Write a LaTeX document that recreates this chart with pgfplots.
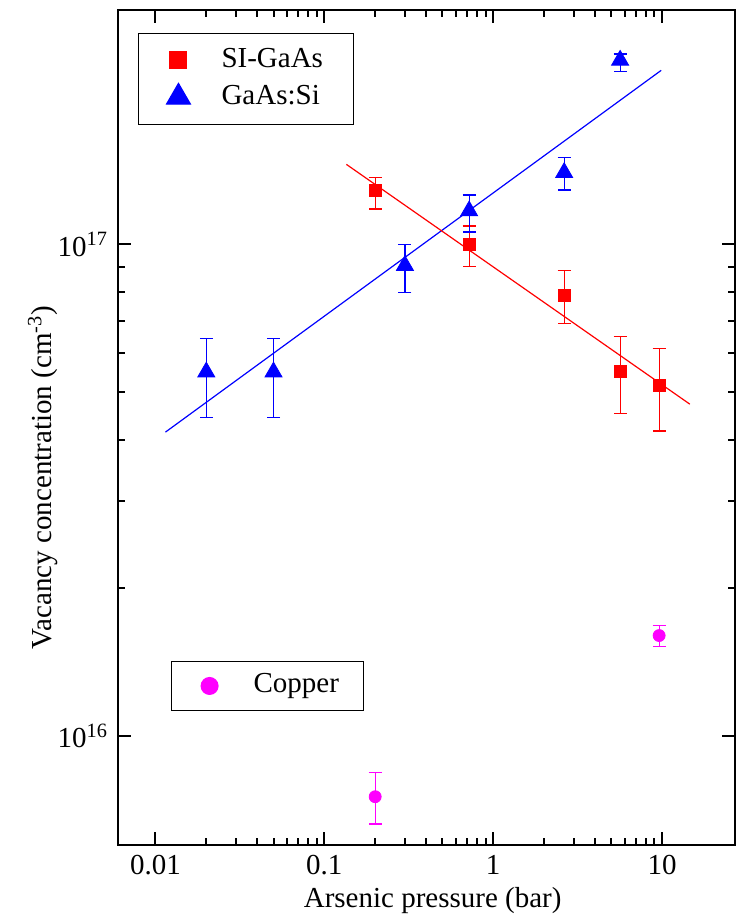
\documentclass[border=0pt]{standalone}
\usepackage{fontspec}
\setmainfont{Liberation Serif}
\usepackage{pgfplots}
\pgfplotsset{compat=1.18}

\newcommand{\chartfont}{\fontsize{14.5}{17}\selectfont}
\definecolor{cured}{RGB}{255,0,0}
\definecolor{siblue}{RGB}{0,0,255}
\definecolor{copper}{RGB}{255,0,255}

\begin{document}
\chartfont
\begin{tikzpicture}
\useasboundingbox (-59pt,-35.5pt) rectangle (308.5pt,422.5pt);

\begin{axis}[
    scale only axis, width=308.5pt, height=417.5pt,
    xmode=log, ymode=log,
    xmin=0.006, xmax=27, ymin=6e15, ymax=3e17,
    axis line style={line width=1pt},
    tick style={line width=1pt, black},
    major tick length=6.5pt, minor tick length=3.5pt,
    tick align=inside,
    xtick={0.01,0.1,1,10}, xticklabels={0.01,0.1,1,10},
    ytick={1e16,1e17},
    yticklabels={10\textsuperscript{16},10\textsuperscript{17}},
    tick label style={font=\chartfont},
    label style={font=\chartfont},
    xlabel={Arsenic pressure (bar)},
    ylabel={Vacancy concentration (cm\textsuperscript{-3})},
    xlabel style={at={(axis description cs:0.51,0)}, anchor=center, yshift=-28pt},
    ylabel style={at={(axis description cs:-0.1216,0.44)}, anchor=center},
    legend image post style={scale=1.4},
    legend style={at={(axis description cs:0.0324,0.9725)}, anchor=north west,
      draw=black, line width=0.6pt, font=\chartfont,
      inner xsep=14pt, inner ysep=7pt, row sep=5pt,
      /tikz/every odd column/.append style={column sep=15.6pt},
      nodes={inner xsep=0pt, inner ysep=0pt, text height=10pt, text depth=3pt,
             text width=52pt, align=left}},
  ]
  % fitted lines
  \addplot[siblue, line width=0.6pt, forget plot]
    coordinates {(0.01146,4.15e16) (9.87,2.26e17)};
  \addplot[cured, line width=0.6pt, forget plot]
    coordinates {(0.135,1.455e17) (14.6,4.73e16)};

  \addplot[cured, only marks, mark=square*, mark size=3pt,
      error bars/.cd, y dir=both, y explicit,
      error bar style={line width=0.6pt},
      error mark options={rotate=90, mark size=3.25pt, line width=0.6pt}]
    table[x=x, y=y, y error plus=ep, y error minus=em] {
      x     y        ep       em
      0.2   1.29e17  0.08e17  0.11e17
      0.72  1.00e17  0.09e17  0.10e17
      2.63  7.88e16  0.97e16  0.98e16
      5.64  5.52e16  0.98e16  0.99e16
      9.6   5.17e16  0.98e16  1.00e16
    };
  \addlegendentry{SI-GaAs}

  \addplot[siblue, only marks, mark=triangle*, mark size=4.9pt,
      error bars/.cd, y dir=both, y explicit,
      error bar style={line width=0.6pt},
      error mark options={rotate=90, mark size=3.25pt, line width=0.6pt}]
    table[x=x, y=y, y error plus=ep, y error minus=em] {
      x     y        ep       em
      0.02  5.50e16  0.94e16  1.05e16
      0.05  5.50e16  0.94e16  1.05e16
      0.30  9.06e16  0.94e16  1.08e16
      0.72  1.17e17  0.09e17  0.11e17
      2.63  1.40e17  0.10e17  0.11e17
      5.64  2.37e17  0.07e17  0.12e17
    };
  \addlegendentry{GaAs:Si}
\end{axis}

\begin{axis}[
    scale only axis, width=308.5pt, height=417.5pt,
    xmode=log, ymode=log,
    xmin=0.006, xmax=27, ymin=6e15, ymax=3e17,
    hide axis,
    legend image post style={scale=1.4},
    legend style={at={(axis description cs:0.0859,0.2204)}, anchor=north west,
      draw=black, line width=0.6pt, font=\chartfont,
      inner xsep=14.8pt, inner ysep=5.75pt,
      /tikz/every odd column/.append style={column sep=17.8pt},
      nodes={inner xsep=0pt, inner ysep=0pt, text height=10pt, text depth=3pt,
             text width=40.2pt, align=left}},
  ]
  \addplot[copper, only marks, mark=*, mark size=3pt,
      error bars/.cd, y dir=both, y explicit,
      error bar style={line width=0.6pt},
      error mark options={rotate=90, mark size=3.25pt, line width=0.6pt}]
    table[x=x, y=y, y error plus=ep, y error minus=em] {
      x     y        ep       em
      0.2   7.52e15  0.89e15  0.90e15
      9.6   1.60e16  0.08e16  0.08e16
    };
  \addlegendentry{Copper}
\end{axis}
\end{tikzpicture}
\end{document}
